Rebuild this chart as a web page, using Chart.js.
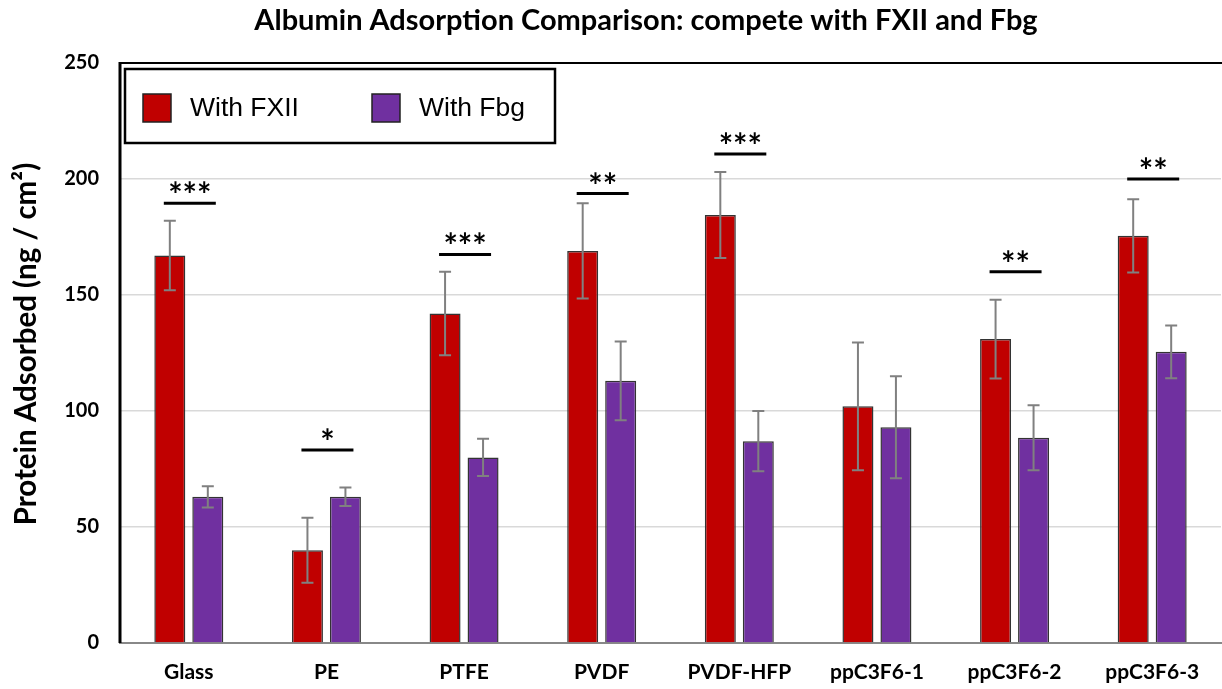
<!DOCTYPE html>
<html>
<head>
<meta charset="utf-8">
<script src="https://cdn.jsdelivr.net/npm/chart.js@4.4.1/dist/chart.umd.min.js"></script>
<style>
  html, body { margin: 0; padding: 0; background: #fff; }
  #wrap { width: 1222px; height: 689px; position: relative; }
</style>
</head>
<body>
<div id="wrap"><canvas id="c" width="1222" height="689"></canvas></div>
<script>
const categories = ['Glass', 'PE', 'PTFE', 'PVDF', 'PVDF-HFP', 'ppC3F6-1', 'ppC3F6-2', 'ppC3F6-3'];
const withFXII = [167, 40, 142, 169, 184.5, 102, 131, 175.5];
const withFXIIErr = [15, 14, 18, 20.5, 18.5, 27.5, 17, 15.8];
const withFbg = [63, 63, 80, 113, 87, 93, 88.5, 125.5];
const withFbgErr = [4.6, 4, 8, 17, 13, 22, 14, 11.4];
const sigLabels = ['***', '*', '***', '**', '***', '', '**', '**'];
const sigLevel = [189.5, 83.2, 167.5, 193.7, 210.8, null, 160, 200];
const yTicks = [0, 50, 100, 150, 200, 250];

const CAL = "Lato, 'Open Sans', sans-serif";

const errorBars = {
  id: 'errorBars',
  afterDatasetsDraw(chart) {
    const ctx = chart.ctx;
    const y = chart.scales.y;
    const errs = [withFXIIErr, withFbgErr];
    ctx.save();
    ctx.strokeStyle = '#808080';
    ctx.lineWidth = 2;
    chart.data.datasets.forEach((ds, di) => {
      const meta = chart.getDatasetMeta(di);
      meta.data.forEach((bar, i) => {
        const v = ds.data[i], e = errs[di][i];
        const x = bar.x;
        const yt = y.getPixelForValue(v + e), yb = y.getPixelForValue(v - e);
        ctx.beginPath();
        ctx.moveTo(x, yt); ctx.lineTo(x, yb);
        ctx.moveTo(x - 6, yt); ctx.lineTo(x + 6, yt);
        ctx.moveTo(x - 6, yb); ctx.lineTo(x + 6, yb);
        ctx.stroke();
      });
    });
    ctx.restore();
  }
};

const sigPlugin = {
  id: 'sig',
  afterDatasetsDraw(chart) {
    const ctx = chart.ctx;
    const xs = chart.scales.x, ys = chart.scales.y;
    ctx.save();
    categories.forEach((c, i) => {
      if (sigLevel[i] == null) return;
      const cx = xs.getPixelForValue(i) + 1;
      const py = ys.getPixelForValue(sigLevel[i]);
      ctx.strokeStyle = '#000';
      ctx.lineWidth = 3;
      ctx.beginPath();
      ctx.moveTo(cx - 26, py); ctx.lineTo(cx + 26, py);
      ctx.stroke();
      ctx.fillStyle = '#000';
      ctx.font = "bold 34px " + CAL;
      ctx.textAlign = 'center';
      ctx.textBaseline = 'alphabetic';
      const m = ctx.measureText(sigLabels[i]);
      const asc = m.actualBoundingBoxAscent, desc = m.actualBoundingBoxDescent;
      const center = py - 16;
      ctx.fillText(sigLabels[i], cx, center + (asc - desc) / 2);
    });
    ctx.restore();
  }
};

const framePlugin = {
  id: 'frame',
  afterDraw(chart) {
    const ctx = chart.ctx;
    const a = chart.chartArea;
    ctx.save();
    // title
    ctx.fillStyle = '#000';
    ctx.font = "bold 29px " + CAL;
    ctx.textAlign = 'center';
    ctx.textBaseline = 'middle';
    ctx.fillText('Albumin Adsorption Comparison: compete with FXII and Fbg', 646, 21);
    // y axis title
    ctx.save();
    ctx.translate(26, 344);
    ctx.rotate(-Math.PI / 2);
    ctx.font = "bold 29.5px " + CAL;
    ctx.textAlign = 'center';
    ctx.textBaseline = 'middle';
    ctx.fillText('Protein Adsorbed (ng / cm²)', 0, 0);
    ctx.restore();
    // top border + left axis
    ctx.strokeStyle = '#000';
    ctx.lineWidth = 2;
    ctx.beginPath();
    ctx.moveTo(a.left, a.top); ctx.lineTo(a.right + 2, a.top);
    ctx.stroke();
    ctx.lineWidth = 3;
    ctx.beginPath();
    ctx.moveTo(a.left, a.top - 1); ctx.lineTo(a.left, a.bottom);
    ctx.stroke();
    // legend
    const lx = a.left + 5, ly = a.top + 6, lw = 430, lh = 74;
    ctx.fillStyle = '#fff';
    ctx.fillRect(lx, ly, lw, lh);
    ctx.lineWidth = 2.5;
    ctx.strokeStyle = '#000';
    ctx.strokeRect(lx, ly, lw, lh);
    const items = chart.data.datasets;
    const xsPos = [lx + 18, lx + 247];
    items.forEach((ds, i) => {
      const sx = xsPos[i], sy = ly + 25;
      ctx.fillStyle = ds.backgroundColor;
      ctx.fillRect(sx, sy, 28, 28);
      ctx.lineWidth = 1.5;
      ctx.strokeStyle = '#222';
      ctx.strokeRect(sx, sy, 28, 28);
      ctx.fillStyle = '#000';
      ctx.font = "26.5px 'Liberation Sans', Arial, sans-serif";
      ctx.textAlign = 'left';
      ctx.textBaseline = 'middle';
      ctx.fillText(ds.label, sx + 47, sy + 15);
    });
    ctx.restore();
  }
};

new Chart(document.getElementById('c'), {
  type: 'bar',
  data: {
    labels: categories,
    datasets: [
      { label: 'With FXII', data: withFXII, backgroundColor: '#C00000', borderColor: '#333', borderWidth: 1.5 },
      { label: 'With Fbg', data: withFbg, backgroundColor: '#7030A0', borderColor: '#333', borderWidth: 1.5 }
    ]
  },
  options: {
    responsive: false,
    animation: false,
    devicePixelRatio: 1,
    categoryPercentage: 0.552,
    barPercentage: 0.816,
    layout: { padding: { top: 63, right: 1, bottom: 0, left: 0 } },
    plugins: {
      legend: { display: false },
      title: { display: false },
      tooltip: { enabled: false }
    },
    scales: {
      x: {
        grid: { display: false, drawTicks: false },
        border: { display: true, color: '#888', width: 2 },
        ticks: { color: '#000', padding: 17, font: { family: CAL, size: 21, weight: 'bold' }, maxRotation: 0 },
        afterFit(s) { s.height = 46; }
      },
      y: {
        min: 0, max: 250,
        afterBuildTicks(s) { s.ticks = yTicks.map(v => ({ value: v })); },
        grid: { color: '#d9d9d9', lineWidth: 1.5, drawTicks: false },
        border: { display: false },
        ticks: { color: '#000', padding: 21, font: { family: CAL, size: 20, weight: 'bold' } },
        title: { display: false },
        afterFit(s) { s.width = 120; }
      }
    }
  },
  plugins: [errorBars, sigPlugin, framePlugin]
});
</script>
</body>
</html>
